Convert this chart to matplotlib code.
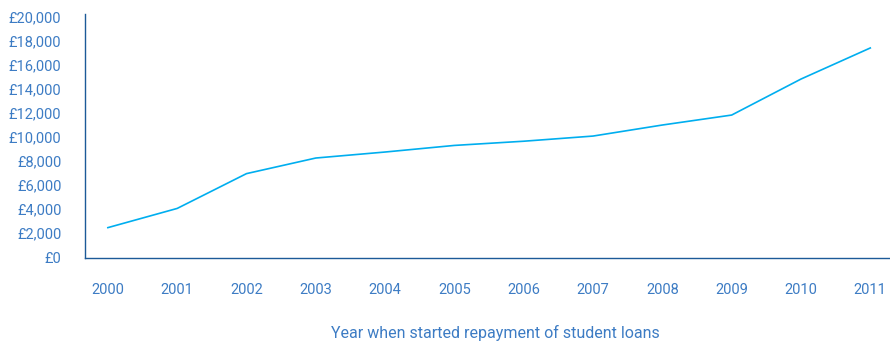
import matplotlib
matplotlib.use("Agg")
import matplotlib.pyplot as plt
from matplotlib.ticker import FuncFormatter

plt.rcParams["font.family"] = ["Roboto", "DejaVu Sans"]

# Average balance by year repayment started
years = ["2000", "2001", "2002", "2003", "2004", "2005",
         "2006", "2007", "2008", "2009", "2010", "2011"]
balance = [2450, 4050, 6950, 8250, 8750, 9300,
           9650, 10080, 11000, 11830, 14830, 17420]

LINE = "#00aeef"
TEXT = "#3d7cc4"
AXIS = "#1c5a98"

fig = plt.figure(figsize=(8.9, 3.43), dpi=100)
ax = fig.add_axes([85 / 890, 1 - 258 / 343, 804 / 890, 244 / 343])

x = list(range(len(years)))
ax.plot(x, balance, color=LINE, linewidth=1.2)

ax.set_xlim(-0.33, 11.27)
ax.set_ylim(-80, 20250)
ax.set_yticks(range(0, 20001, 2000))
ax.yaxis.set_major_formatter(FuncFormatter(lambda v, _: f"£{int(v):,}"))
ax.set_xticks(x)
ax.set_xticklabels(years)

for side in ("top", "right"):
    ax.spines[side].set_visible(False)
for side in ("left", "bottom"):
    ax.spines[side].set_color(AXIS)
    ax.spines[side].set_linewidth(1.0)

ax.tick_params(axis="both", length=0, labelsize=10.5, labelcolor=TEXT)
ax.tick_params(axis="x", pad=18)
ax.tick_params(axis="y", pad=17)

fig.text(495 / 890, 1 - 333 / 343, "Year when started repayment of student loans",
         ha="center", va="center", fontsize=11.5, color=TEXT)

fig.savefig("out.png", dpi=100)
plt.close(fig)
